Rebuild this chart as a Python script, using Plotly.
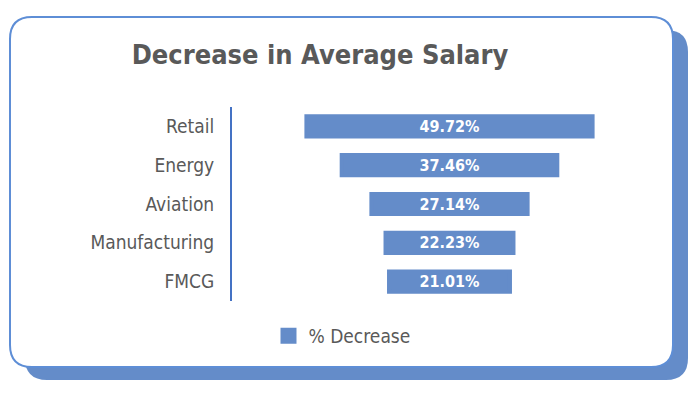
import plotly.graph_objects as go

categories = ["Retail", "Energy", "Aviation", "Manufacturing", "FMCG"]
decrease_pct = [49.72, 37.46, 27.14, 22.23, 21.01]
series_name = "% Decrease"
title_text = "Decrease in Average Salary"

W, H = 700, 401
BLUE = "#648CC9"
BORDER = "#5E8ED6"
TEXT = "#595959"
FONT = "DejaVu Sans Condensed, Liberation Sans Narrow, Roboto, sans-serif"


def px_x(px):
    return px / W


def px_y(py):
    return 1 - py / H


def rounded_rect(x0, y0, x1, y1, r):
    pts = [
        ("M", (x0 + r, y0)),
        ("L", (x1 - r, y0)),
        ("Q", (x1, y0), (x1, y0 + r)),
        ("L", (x1, y1 - r)),
        ("Q", (x1, y1), (x1 - r, y1)),
        ("L", (x0 + r, y1)),
        ("Q", (x0, y1), (x0, y1 - r)),
        ("L", (x0, y0 + r)),
        ("Q", (x0, y0), (x0 + r, y0)),
    ]
    s = ""
    for p in pts:
        cmd = p[0]
        coords = " ".join(f"{px_x(a):.5f},{px_y(b):.5f}" for a, b in p[1:])
        s += f"{cmd} {coords} "
    return s + "Z"


fig = go.Figure()
fig.add_trace(go.Funnel(
    y=categories,
    x=decrease_pct,
    name=series_name,
    marker=dict(color=BLUE, line=dict(color=BLUE, width=4)),
    texttemplate="<b>%{x:.2f}%</b>",
    textposition="inside",
    insidetextanchor="middle",
    constraintext="none",
    textfont=dict(color="white", size=16, family=FONT),
    connector=dict(visible=False),
    showlegend=True,
    width=0.52,
))

half = max(decrease_pct) * 0.76

fig.update_layout(
    width=W, height=H,
    margin=dict(l=0, r=0, t=0, b=0),
    paper_bgcolor="white",
    plot_bgcolor="rgba(0,0,0,0)",
    title=dict(
        text=f"<b>{title_text}</b>",
        x=320 / W, xanchor="center", xref="paper",
        y=px_y(55), yanchor="middle", yref="paper",
        font=dict(family=FONT, size=27, color=TEXT),
    ),
    xaxis=dict(
        domain=[px_x(232), px_x(667)],
        range=[-half, half],
        visible=False,
    ),
    yaxis=dict(
        domain=[px_y(301), px_y(107)],
        showline=True, linecolor="#4472C4", linewidth=2,
        ticks="", ticklabelstandoff=12,
        tickfont=dict(family=FONT, size=19, color=TEXT),
        showgrid=False,
    ),
    legend=dict(
        orientation="h",
        x=342 / W, xanchor="center",
        y=px_y(336), yanchor="middle",
        font=dict(family=FONT, size=19, color=TEXT),
        bgcolor="rgba(0,0,0,0)",
    ),
    shapes=[
        dict(type="path", xref="paper", yref="paper",
             path=rounded_rect(25, 30, 688, 380, 22),
             fillcolor=BLUE, line=dict(width=0), layer="below"),
        dict(type="path", xref="paper", yref="paper",
             path=rounded_rect(10, 17, 673, 367, 22),
             fillcolor="white", line=dict(color=BORDER, width=2), layer="below"),
    ],
)

fig.write_html(
    "out.html",
    config={"displayModeBar": False},
    post_script="document.body.style.margin='0';document.body.style.overflow='hidden';",
)
